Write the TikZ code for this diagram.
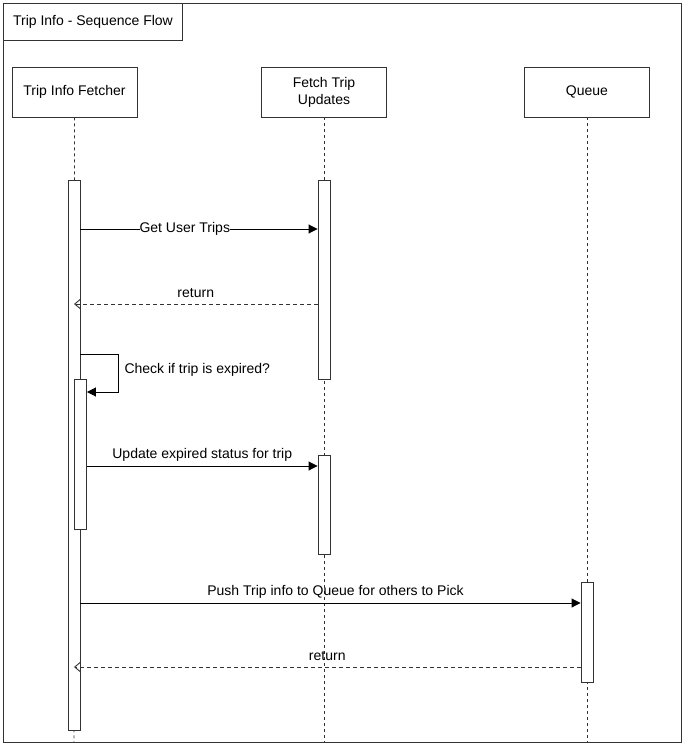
\documentclass[tikz,border=0pt]{standalone}
\usepackage{fontspec}
\setmainfont{Liberation Sans}
\usetikzlibrary{arrows.meta}
\begin{document}
\begin{tikzpicture}[x=1pt,y=-1pt,font=\fontsize{14}{17}\selectfont]
  \tikzstyle{frame}=[draw=black!80,line width=0.9pt]
  \tikzstyle{head}=[rectangle,draw=black!80,line width=0.9pt,minimum width=125pt,minimum height=50pt,align=center,inner sep=1pt]
  \tikzstyle{life}=[draw=black!80,line width=0.9pt,dash pattern=on 3pt off 3pt]
  \tikzstyle{act}=[rectangle,draw=black!80,fill=white,line width=0.9pt,minimum width=12pt,inner sep=0pt]
  \tikzstyle{msg}=[draw=black,line width=0.9pt,-{Triangle[length=9pt,width=9pt]}]
  \tikzstyle{ret}=[draw=black!80,line width=0.9pt,dash pattern=on 4pt off 3pt,-{Straight Barb[length=6pt,width=10pt]}]
  \useasboundingbox (0,0) rectangle (684,746);
  \draw[frame] (3,3) rectangle (681,742);
  \node(title)[rectangle,draw=black!80,line width=0.9pt,anchor=north west,minimum width=179pt,minimum height=37pt,inner sep=1pt] at (3,3) {Trip Info - Sequence Flow};
  % participants
  \node(fetcher)[head] at (74.5,92) {Trip Info Fetcher};
  \node(updates)[head] at (324,92) {Fetch Trip\\Updates};
  \node(queue)[head] at (587,92) {Queue};
  \coordinate(fetcherEnd) at (74,742);
  \coordinate(updatesEnd) at (324,742);
  \coordinate(queueEnd) at (587,742);
  \draw[life] (fetcher.south) -- (fetcherEnd);
  \draw[life] (updates.south) -- (updatesEnd);
  \draw[life] (queue.south) -- (queueEnd);
  % activations
  \node(act1)[act,minimum height=550pt] at (74,455) {};
  \node(act2)[act,minimum height=150pt] at (80.5,454) {};
  \node(act3)[act,minimum height=199pt] at (324,279.5) {};
  \node(act4)[act,minimum height=99pt] at (324,504.5) {};
  \node(act5)[act,minimum height=100pt] at (587,632) {};
  % messages
  \draw[msg] (act1.east |- 0,229) -- (act3.west |- 0,229)
    node[pos=0.44,fill=white,inner sep=0pt]{Get User Trips};
  \draw[ret] (act3.west |- 0,304) -- (act1.center |- 0,304)
    node[pos=0.5,above=3pt]{return};
  \draw[msg] (act1.east |- 0,354) -- ++(38,0) |- (act2.east |- 0,392);
  \node(check)[anchor=west] at (121,370) {Check if trip is expired?};
  \draw[msg] (act2.east |- 0,466) -- (act4.west |- 0,466)
    node[pos=0.5,above=1pt]{Update expired status for trip};
  \draw[msg] (act1.east |- 0,603) -- (act5.west |- 0,603)
    node[pos=0.51,above=1pt]{Push Trip info to Queue for others to Pick};
  \draw[ret] (act5.west |- 0,667) -- (act1.center |- 0,667)
    node[pos=0.5,above=3pt]{return};
\end{tikzpicture}
\end{document}
